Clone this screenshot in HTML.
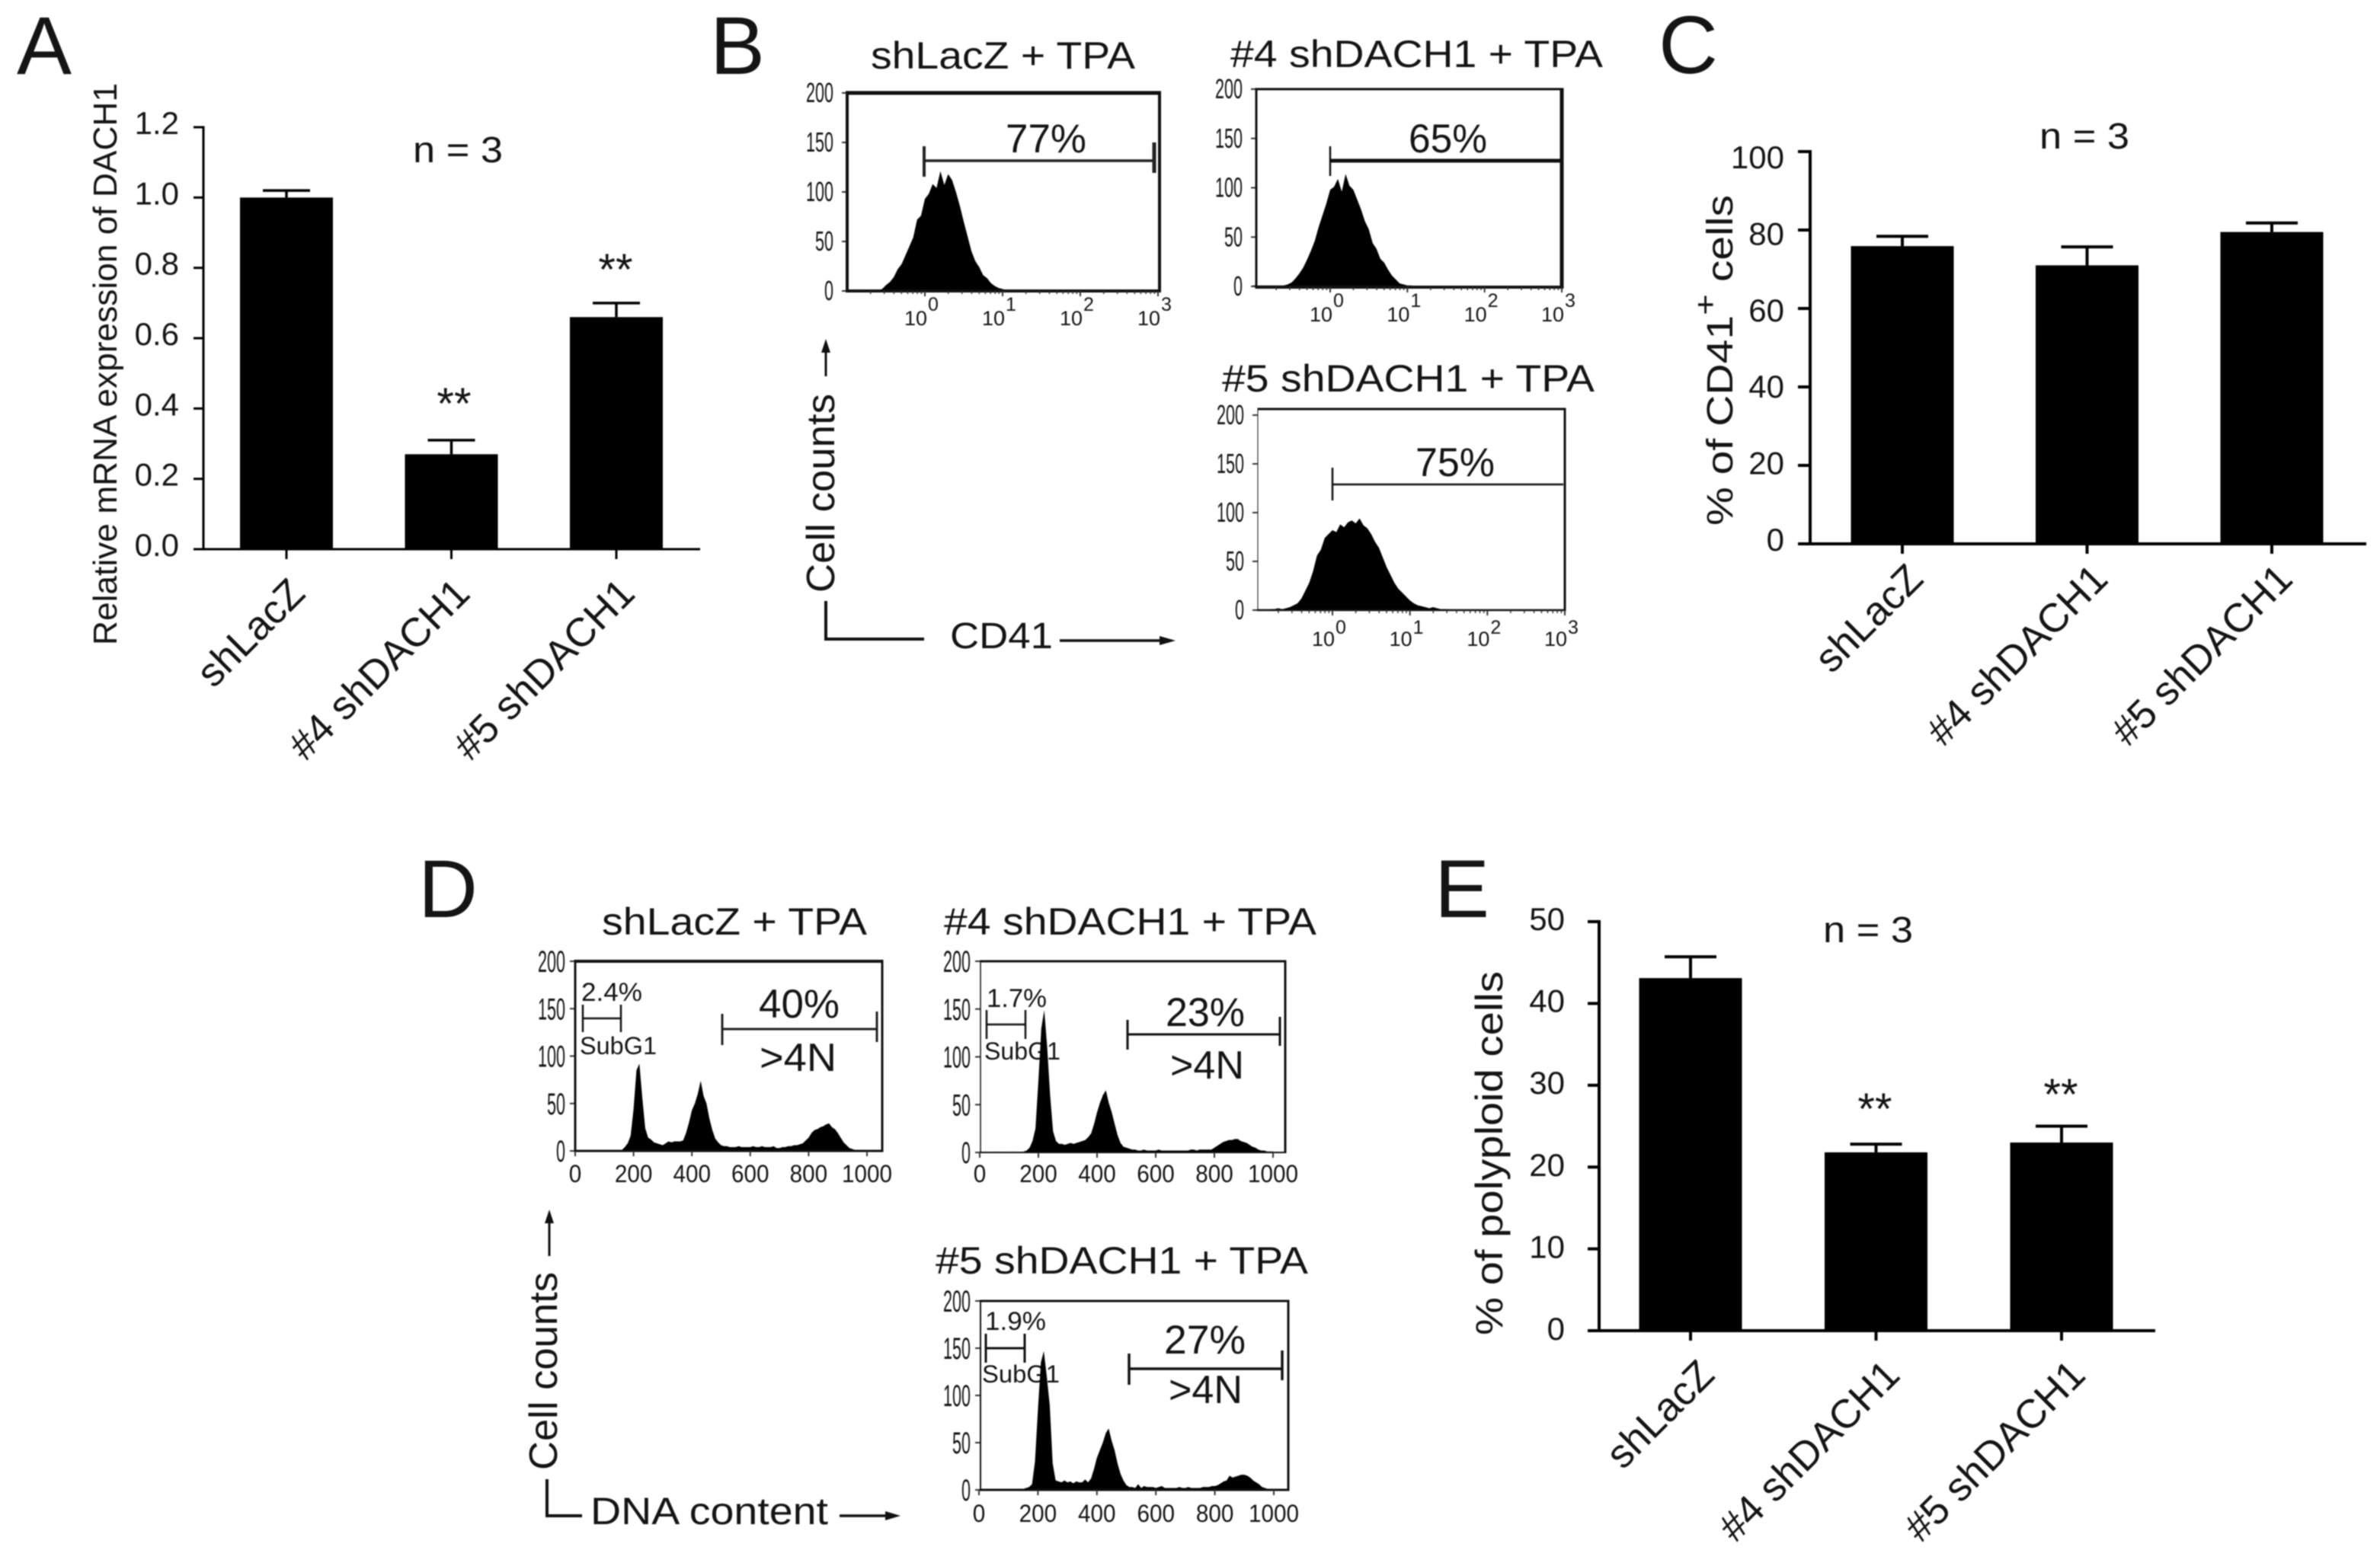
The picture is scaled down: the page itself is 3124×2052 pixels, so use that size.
<!DOCTYPE html>
<html lang="en">
<head>
<meta charset="utf-8">
<title>DACH1 knockdown figure</title>
<style>
html,body{margin:0;padding:0;background:#fff;}
svg{display:block;filter:blur(0.7px);}
text{font-family:"Liberation Sans",Arial,sans-serif;fill:#141414;}
</style>
</head>
<body>
<svg id="figure" xmlns="http://www.w3.org/2000/svg" width="3124" height="2052" viewBox="0 0 3124 2052">
<rect width="3124" height="2052" fill="#fff"/>

<g font-size="108">
<text x="22" y="97">A</text>
<text x="932" y="97">B</text>
<text x="2177" y="96">C</text>
<text x="549" y="1204">D</text>
<text x="1883" y="1204">E</text>
</g>

<g>
<text x="542" y="213" font-size="48" textLength="118" lengthAdjust="spacingAndGlyphs">n = 3</text>
<text transform="translate(153,847) rotate(-90)" font-size="44" textLength="738" lengthAdjust="spacingAndGlyphs">Relative mRNA expression of DACH1</text>
<text x="596" y="550" font-size="58" text-anchor="middle">**</text>
<text x="808" y="374" font-size="58" text-anchor="middle">**</text>
</g>

<g>
<text x="2677" y="195" font-size="48" textLength="118" lengthAdjust="spacingAndGlyphs">n = 3</text>
<text transform="translate(2274,690) rotate(-90) scale(1.19,1)" font-size="48">% of CD41<tspan font-size="40" dy="-22">+</tspan><tspan dy="22"> cells</tspan></text>
</g>

<g>
<text x="2393" y="1237" font-size="48" textLength="118" lengthAdjust="spacingAndGlyphs">n = 3</text>
<text transform="translate(1972,1753) rotate(-90)" font-size="50" textLength="478" lengthAdjust="spacingAndGlyphs">% of polyploid cells</text>
<text x="2461" y="1476" font-size="58" text-anchor="middle">**</text>
<text x="2705" y="1457" font-size="58" text-anchor="middle">**</text>
</g>

<g>
<text x="1143" y="90" font-size="50" textLength="347" lengthAdjust="spacingAndGlyphs">shLacZ + TPA</text>
<text x="1615" y="88" font-size="50" textLength="489" lengthAdjust="spacingAndGlyphs">#4 shDACH1 + TPA</text>
<text x="1604" y="514" font-size="50" textLength="489" lengthAdjust="spacingAndGlyphs">#5 shDACH1 + TPA</text>

<text x="1320" y="200" font-size="53" textLength="106" lengthAdjust="spacingAndGlyphs">77%</text>
<g stroke="#222" fill="none">
<path d="M1213 211H1515" stroke-width="3.5"/><path d="M1213 192V232" stroke-width="4"/><path d="M1515 187V227" stroke-width="5"/>
</g>
<text x="1849" y="200" font-size="53" textLength="103" lengthAdjust="spacingAndGlyphs">65%</text>
<g stroke="#111" fill="none">
<path d="M1746 211H2048" stroke-width="5"/><path d="M1746 192V231" stroke-width="2.5"/>
</g>
<text x="1858" y="625" font-size="53" textLength="104" lengthAdjust="spacingAndGlyphs">75%</text>
<g stroke="#111" fill="none">
<path d="M1749 636H2052" stroke-width="2.5"/><path d="M1749 614V657" stroke-width="2.5"/>
</g>

<text transform="translate(1095,778) rotate(-90)" font-size="52" textLength="261" lengthAdjust="spacingAndGlyphs">Cell counts</text>
<path d="M1084 494V458" stroke="#111" stroke-width="3" fill="none"/>
<path d="M1084 445L1078 463H1090Z" fill="#111"/>
<path d="M1084 789V839H1213" stroke="#111" stroke-width="4" fill="none"/>
<text x="1247" y="851" font-size="48" textLength="135" lengthAdjust="spacingAndGlyphs">CD41</text>
<path d="M1391 841H1527" stroke="#111" stroke-width="3.5" fill="none"/>
<path d="M1543 841L1522 835V847Z" fill="#111"/>
</g>

<g>
<text x="790" y="1227" font-size="50" textLength="348" lengthAdjust="spacingAndGlyphs">shLacZ + TPA</text>
<text x="1239" y="1227" font-size="50" textLength="489" lengthAdjust="spacingAndGlyphs">#4 shDACH1 + TPA</text>
<text x="1228" y="1672" font-size="50" textLength="489" lengthAdjust="spacingAndGlyphs">#5 shDACH1 + TPA</text>

<text x="763" y="1314" font-size="34" textLength="80" lengthAdjust="spacingAndGlyphs">2.4%</text>
<text x="761" y="1384" font-size="32" textLength="101" lengthAdjust="spacingAndGlyphs">SubG1</text>
<path d="M765 1337H815M765 1319V1355M815 1319V1355" stroke="#111" stroke-width="2.5" fill="none"/>
<path d="M948 1351H1151M948 1331V1372M1151 1328V1368" stroke="#222" stroke-width="3" fill="none"/>
<text x="996" y="1336" font-size="53" textLength="106" lengthAdjust="spacingAndGlyphs">40%</text>
<text x="997" y="1406" font-size="52" textLength="101" lengthAdjust="spacingAndGlyphs">&gt;4N</text>

<text x="1295" y="1322" font-size="34" textLength="79" lengthAdjust="spacingAndGlyphs">1.7%</text>
<text x="1292" y="1391" font-size="32" textLength="100" lengthAdjust="spacingAndGlyphs">SubG1</text>
<path d="M1295 1345H1346M1295 1326V1364M1346 1326V1364" stroke="#111" stroke-width="2.5" fill="none"/>
<path d="M1480 1358H1680M1480 1339V1378M1680 1335V1373" stroke="#111" stroke-width="3" fill="none"/>
<text x="1530" y="1347" font-size="53" textLength="104" lengthAdjust="spacingAndGlyphs">23%</text>
<text x="1536" y="1416" font-size="52" textLength="97" lengthAdjust="spacingAndGlyphs">&gt;4N</text>

<text x="1293" y="1746" font-size="34" textLength="80" lengthAdjust="spacingAndGlyphs">1.9%</text>
<text x="1289" y="1815" font-size="32" textLength="102" lengthAdjust="spacingAndGlyphs">SubG1</text>
<path d="M1294 1770H1345M1294 1751V1789M1345 1751V1789" stroke="#111" stroke-width="3" fill="none"/>
<path d="M1482 1797H1683M1482 1777V1818M1683 1773V1812" stroke="#111" stroke-width="3.5" fill="none"/>
<text x="1528" y="1777" font-size="53" textLength="107" lengthAdjust="spacingAndGlyphs">27%</text>
<text x="1534" y="1842" font-size="52" textLength="97" lengthAdjust="spacingAndGlyphs">&gt;4N</text>

<text transform="translate(731,1930) rotate(-90)" font-size="52" textLength="260" lengthAdjust="spacingAndGlyphs">Cell counts</text>
<path d="M721 1649V1601" stroke="#111" stroke-width="3" fill="none"/>
<path d="M721 1588L715 1606H727Z" fill="#111"/>
<path d="M718 1942V1990H764" stroke="#111" stroke-width="4" fill="none"/>
<text x="775" y="2001" font-size="50" textLength="312" lengthAdjust="spacingAndGlyphs">DNA content</text>
<path d="M1102 1990H1168" stroke="#111" stroke-width="3.5" fill="none"/>
<path d="M1182 1990L1162 1984V1996Z" fill="#111"/>
</g>

<g id="charts"></g>
</svg>

<script>
/* Shared categories */
const categories = ['shLacZ', '#4 shDACH1', '#5 shDACH1'];

/* Panel A: relative mRNA */
const panelAValues = [1.0, 0.27, 0.66];
const panelAErrors = [0.02, 0.04, 0.04];
const panelATicks = ['0.0', '0.2', '0.4', '0.6', '0.8', '1.0', '1.2'];

/* Panel C: % CD41+ */
const panelCValues = [75.9, 71.0, 79.5];
const panelCErrors = [2.5, 4.7, 2.3];
const panelCTicks = ['0', '20', '40', '60', '80', '100'];

/* Panel E: % polyploid */
const panelEValues = [43.1, 21.8, 23.0];
const panelEErrors = [2.6, 1.0, 2.0];
const panelETicks = ['0', '10', '20', '30', '40', '50'];

/* Flow cytometry shared axes */
const countTicks = ['0', '50', '100', '150', '200'];
const logExponents = ['0', '1', '2', '3'];
const dnaTicks = ['0', '200', '400', '600', '800', '1000'];

/* Panel B histograms: counts per 0.05-decade bin, first bin at 10^-1 */
const histCd41Shlacz = [1,1,1,1,1,1,1,1,1,2,6,9,14,22,27,36,45,54,72,76,93,98,108,104,121,107,118,112,100,86,70,55,40,30,24,16,13,8,5,3,2,1,1,1,1,1,1,1,1,0,0];
const histCd414 = [1,1,1,1,1,1,1,1,1,2,4,8,13,19,27,36,46,60,72,84,98,101,109,96,114,102,98,88,78,66,58,44,38,28,24,17,11,7,3,2,1,1,0,0,0,0,0,0,0,0,0];
const histCd415 = [0,1,0,0,1,1,2,1,2,3,5,7,12,20,28,40,56,62,74,78,82,80,88,85,90,92,89,94,87,84,78,70,64,54,44,36,28,22,18,14,10,7,5,4,3,2,3,2,1,1,1];

/* Panel D histograms: counts per 10-channel bin, first bin at channel 0 */
const histDnaShlacz = [1,1,1,1,1,1,1,1,1,1,1,1,1,1,1,1,1,4,8,16,44,85,92,56,24,14,12,9,8,7,6,8,10,9,10,10,10,11,19,30,43,50,60,74,58,50,34,22,13,9,6,5,5,4,4,4,5,4,4,4,4,5,4,4,5,4,4,4,5,3,3,4,4,5,5,6,6,7,8,11,14,19,22,23,25,26,28,29,25,23,19,14,9,6,3,2,1,1,1,1,1,1,1,1];
const histDna4 = [0,0,1,0,0,0,1,0,0,0,0,1,0,0,0,1,2,5,12,25,75,130,149,110,60,22,12,9,9,8,9,10,9,10,11,12,13,16,20,30,42,52,60,65,52,42,30,18,10,6,5,4,3,3,2,2,3,2,2,2,2,3,2,2,2,2,2,2,2,2,2,2,3,3,2,3,3,3,3,3,5,7,9,11,12,13,13,14,14,12,11,10,8,6,5,3,2,2,1,1,1,0,0];
const histDna5 = [0,0,0,0,1,0,0,1,0,0,0,0,1,0,0,1,2,3,6,30,85,135,147,120,90,28,10,9,8,10,8,9,7,9,8,8,11,8,12,22,34,42,50,60,65,52,42,28,17,10,5,3,3,2,6,2,4,3,3,3,2,3,4,2,2,2,2,2,3,2,2,3,2,2,2,2,3,3,3,4,4,5,7,9,10,15,13,14,15,16,16,15,13,10,8,6,3,2,1,1,0,0,0];

const svgNS = 'http://www.w3.org/2000/svg';
const root = document.getElementById('charts');

function make(parent, tag, attrs, name, content) {
  const node = document.createElementNS(svgNS, tag);
  for (const key in attrs) node.setAttribute(key, attrs[key]);
  
  
  if (content !== undefined) node.textContent = content;
  parent.appendChild(node);
  return node;
}

function drawBarPanel(id, values, errors, ticks, cfg) {
  const g = make(root, 'g', {}, id + '-bar-chart');
  const maxTick = parseFloat(ticks[ticks.length - 1]);
  const yOf = v => cfg.yZero + (cfg.yTop - cfg.yZero) * v / maxTick;
  const xOf = i => cfg.xFirst + i * cfg.step;
  const labelYOf = v => cfg.labelZero + (cfg.labelTop - cfg.labelZero) * v / maxTick;

  values.forEach((v, i) => {
    const x = xOf(i);
    make(g, 'path', {d: 'M' + x + ' ' + yOf(v) + 'V' + yOf(v + errors[i]) + 'M' + (x - cfg.capHalf) + ' ' + yOf(v + errors[i]) + 'H' + (x + cfg.capHalf), stroke: '#000', 'stroke-width': cfg.errWidth, fill: 'none'}, id + '-error-bar-' + i);
    make(g, 'rect', {x: x - cfg.barWidth / 2, y: yOf(v), width: cfg.barWidth, height: cfg.yZero - yOf(v), fill: '#000'}, id + '-bar-' + i);
    make(g, 'line', {x1: x, x2: x, y1: cfg.yZero, y2: cfg.yZero + cfg.tickLen, stroke: '#000', 'stroke-width': cfg.axisWidth}, id + '-x-tick-' + i);
    const ex = x + cfg.labelDx;
    const ey = cfg.yZero + cfg.labelDy;
    make(g, 'text', {transform: 'translate(' + ex + ',' + ey + ') rotate(-45)', 'font-size': 53, 'text-anchor': 'end'}, id + '-x-label-' + i, categories[i]);
  });

  ticks.forEach((label, i) => {
    const v = parseFloat(label);
    make(g, 'line', {x1: cfg.axisLeft, x2: cfg.yAxisX, y1: yOf(v), y2: yOf(v), stroke: '#000', 'stroke-width': cfg.axisWidth}, id + '-y-tick-' + i);
    make(g, 'text', {x: cfg.labelRight, y: labelYOf(v), 'font-size': 42, 'text-anchor': 'end'}, id + '-y-label-' + i, label);
  });

  make(g, 'line', {x1: cfg.yAxisX, x2: cfg.yAxisX, y1: cfg.yTop - cfg.axisWidth / 2, y2: cfg.yZero, stroke: '#000', 'stroke-width': cfg.axisWidth}, id + '-y-axis');
  make(g, 'line', {x1: cfg.axisLeft, x2: cfg.axisRight, y1: cfg.yZero, y2: cfg.yZero, stroke: '#000', 'stroke-width': cfg.axisWidth}, id + '-x-axis');
}

drawBarPanel('panel-a', panelAValues, panelAErrors, panelATicks, {
  xFirst: 376, step: 216.5, barWidth: 122, capHalf: 31, errWidth: 3.5,
  yAxisX: 267, axisLeft: 254, axisRight: 919, yTop: 167, yZero: 721,
  tickLen: 13, axisWidth: 3, labelRight: 235, labelTop: 176, labelZero: 730,
  labelDx: 27, labelDy: 61
});

drawBarPanel('panel-c', panelCValues, panelCErrors, panelCTicks, {
  xFirst: 2497, step: 242.5, barWidth: 135, capHalf: 34, errWidth: 4,
  yAxisX: 2376, axisLeft: 2360, axisRight: 3106, yTop: 199, yZero: 714,
  tickLen: 13, axisWidth: 4, labelRight: 2342, labelTop: 221, labelZero: 723,
  labelDx: 30, labelDy: 49
});

drawBarPanel('panel-e', panelEValues, panelEErrors, panelETicks, {
  xFirst: 2219, step: 243.5, barWidth: 135, capHalf: 34, errWidth: 4,
  yAxisX: 2099, axisLeft: 2084, axisRight: 2829, yTop: 1210, yZero: 1747,
  tickLen: 13, axisWidth: 4, labelRight: 2054, labelTop: 1221, labelZero: 1759,
  labelDx: 34, labelDy: 61
});

function drawFrame(g, id, f, w) {
  make(g, 'line', {x1: f.l - w.l / 2, x2: f.r + w.r / 2, y1: f.t, y2: f.t, stroke: '#111', 'stroke-width': w.t}, id + '-frame-top');
  make(g, 'line', {x1: f.r, x2: f.r, y1: f.t, y2: f.b, stroke: '#111', 'stroke-width': w.r}, id + '-frame-right');
  make(g, 'line', {x1: f.l - w.l / 2, x2: f.r + w.r / 2, y1: f.b, y2: f.b, stroke: '#111', 'stroke-width': w.b}, id + '-frame-bottom');
  make(g, 'line', {x1: f.l, x2: f.l, y1: f.t, y2: f.b, stroke: '#111', 'stroke-width': w.l}, id + '-frame-left');
}

function histogramPath(counts, xOfBin, yOf, zeroY) {
  let d = 'M' + xOfBin(0) + ' ' + zeroY;
  counts.forEach((c, i) => {
    d += 'L' + xOfBin(i) + ' ' + yOf(c);
  });
  return d + 'L' + xOfBin(counts.length - 1) + ' ' + zeroY + 'Z';
}

function drawCountTicks(g, id, f, cfg) {
  const yOf = c => cfg.y0 + (cfg.y200 - cfg.y0) * c / 200;
  countTicks.forEach((label, i) => {
    const c = parseFloat(label);
    make(g, 'line', {x1: f.l - 7, x2: f.l, y1: yOf(c), y2: yOf(c), stroke: '#333', 'stroke-width': 2}, id + '-y-tick-' + i);
    make(g, 'text', {x: f.l - cfg.labelGap, y: yOf(c) + cfg.labelDy, 'font-size': cfg.labelSize, 'text-anchor': 'end', textLength: label.length * 12, lengthAdjust: 'spacingAndGlyphs'}, id + '-y-label-' + i, label);
  });
  return yOf;
}

function drawLogPanel(id, counts, f, w, cfg) {
  const g = make(root, 'g', {}, id + '-histogram');
  const decade = (cfg.x3 - cfg.x0) / 3;
  const xOfLog = l => cfg.x0 + l * decade;
  const yOf = drawCountTicks(g, id, f, cfg);
  const binSize = 0.05;
  const xOfBin = i => xOfLog(-1 + i * binSize);
  make(g, 'path', {d: histogramPath(counts, xOfBin, yOf, cfg.y0), fill: '#000'}, id + '-distribution');
  drawFrame(g, id, f, w);

  let minor = '';
  for (let dec = -1; dec < 3; dec++) {
    for (let m = 2; m < 10; m++) {
      const x = xOfLog(dec + Math.log10(m));
      minor += 'M' + x + ' ' + f.b + 'V' + (f.b + 4);
    }
  }
  make(g, 'path', {d: minor, stroke: '#333', 'stroke-width': 1.5, fill: 'none'}, id + '-minor-ticks');

  logExponents.forEach((e, i) => {
    const x = xOfLog(parseFloat(e));
    make(g, 'line', {x1: x, x2: x, y1: f.b, y2: f.b + 7, stroke: '#333', 'stroke-width': 2}, id + '-x-tick-' + i);
    make(g, 'text', {x: x - 27, y: cfg.baseLabelY, 'font-size': 27, textLength: 30, lengthAdjust: 'spacingAndGlyphs'}, id + '-x-label-base-' + i, '10');
    make(g, 'text', {x: x + 4, y: cfg.supLabelY, 'font-size': 25}, id + '-x-label-exponent-' + i, e);
  });
}

function drawDnaPanel(id, counts, f, w, cfg) {
  const g = make(root, 'g', {}, id + '-histogram');
  const xOfChannel = c => cfg.x0 + c * cfg.perChannel;
  const yOf = drawCountTicks(g, id, f, cfg);
  const binSize = 10;
  const xOfBin = i => xOfChannel(i * binSize);
  make(g, 'path', {d: histogramPath(counts, xOfBin, yOf, cfg.y0), fill: '#000'}, id + '-distribution');
  drawFrame(g, id, f, w);
  dnaTicks.forEach((label, i) => {
    const x = xOfChannel(parseFloat(label));
    make(g, 'line', {x1: x, x2: x, y1: f.b, y2: f.b + 7, stroke: '#333', 'stroke-width': 2}, id + '-x-tick-' + i);
    make(g, 'text', {x: x, y: cfg.xLabelY, 'font-size': 32, 'text-anchor': 'middle', textLength: label.length * 16.5, lengthAdjust: 'spacingAndGlyphs'}, id + '-x-label-' + i, label);
  });
}

drawLogPanel('cd41-shlacz', histCd41Shlacz, {l: 1112, r: 1522, t: 122, b: 382}, {t: 5, r: 4, b: 4, l: 4},
  {x0: 1214, x3: 1520, y0: 382, y200: 122, labelGap: 18, labelDy: 12, labelSize: 36, baseLabelY: 427, supLabelY: 408});
drawLogPanel('cd41-4', histCd414, {l: 1649, r: 2050, t: 117, b: 377}, {t: 3, r: 5, b: 4, l: 3},
  {x0: 1746, x3: 2050, y0: 376, y200: 117, labelGap: 18, labelDy: 12, labelSize: 36, baseLabelY: 422, supLabelY: 403});
drawLogPanel('cd41-5', histCd415, {l: 1651, r: 2054, t: 537, b: 801}, {t: 3, r: 3, b: 2.5, l: 1},
  {x0: 1749, x3: 2054, y0: 801, y200: 545, labelGap: 18, labelDy: 12, labelSize: 36, baseLabelY: 848, supLabelY: 832});

drawDnaPanel('dna-shlacz', histDnaShlacz, {l: 755, r: 1158, t: 1262, b: 1511}, {t: 4, r: 3, b: 3, l: 3},
  {x0: 755, perChannel: 0.383, y0: 1511, y200: 1262, labelGap: 13, labelDy: 14, labelSize: 40, xLabelY: 1552});
drawDnaPanel('dna-4', histDna4, {l: 1287, r: 1687, t: 1262, b: 1513}, {t: 3, r: 3, b: 2, l: 1.5},
  {x0: 1286, perChannel: 0.385, y0: 1513, y200: 1262, labelGap: 13, labelDy: 14, labelSize: 40, xLabelY: 1552});
drawDnaPanel('dna-5', histDna5, {l: 1287, r: 1691, t: 1708, b: 1956}, {t: 3, r: 3, b: 3, l: 2},
  {x0: 1285, perChannel: 0.387, y0: 1956, y200: 1708, labelGap: 13, labelDy: 14, labelSize: 40, xLabelY: 1998});
</script>
</body>
</html>
